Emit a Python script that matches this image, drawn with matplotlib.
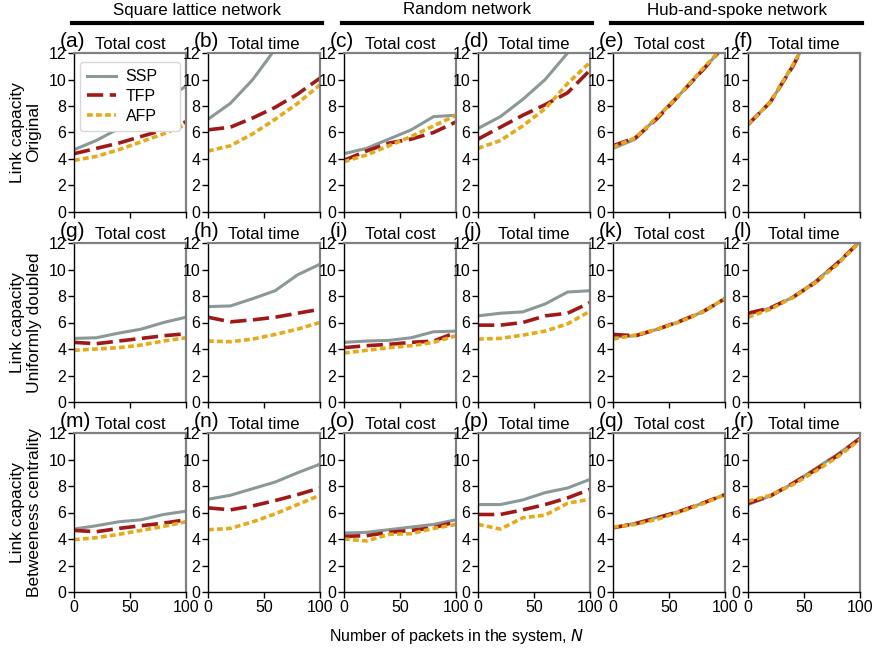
import matplotlib
matplotlib.use("Agg")
import matplotlib.pyplot as plt
from matplotlib.lines import Line2D

plt.rcParams['font.family'] = ['Liberation Sans', 'DejaVu Sans']

N = [0, 20, 40, 60, 80, 100]
methods = ["SSP", "TFP", "AFP"]
networks = ["Square lattice network", "Random network", "Hub-and-spoke network"]
row_labels = ["Link capacity\nOriginal", "Link capacity\nUniformly doubled", "Link capacity\nBetweeness centrality"]
metrics = ["Total cost", "Total time"]
letters = list("abcdefghijklmnopqr")

a_ssp = [4.7, 5.4, 6.3, 7.3, 8.4, 9.5]
a_tfp = [4.4, 4.8, 5.2, 5.7, 6.2, 6.8]
a_afp = [3.9, 4.2, 4.7, 5.3, 5.9, 6.6]
b_ssp = [7.0, 8.2, 10.0, 12.3, 14.5, 17.0]
b_tfp = [6.2, 6.4, 7.1, 7.9, 8.9, 10.1]
b_afp = [4.6, 5.0, 5.9, 7.0, 8.2, 9.6]
c_ssp = [4.4, 4.8, 5.5, 6.2, 7.2, 7.3]
c_tfp = [3.9, 4.6, 5.2, 5.5, 6.0, 6.8]
c_afp = [3.8, 4.3, 5.0, 5.7, 6.5, 7.3]
d_ssp = [6.3, 7.2, 8.5, 10.0, 12.0, 13.5]
d_tfp = [5.5, 6.4, 7.3, 8.1, 9.0, 10.7]
d_afp = [4.8, 5.4, 6.5, 7.8, 9.7, 11.3]
e_ssp = [4.8, 5.5, 7.2, 8.9, 10.7, 12.6]
e_tfp = [5.0, 5.6, 7.1, 8.9, 10.7, 12.6]
e_afp = [4.9, 5.6, 7.2, 8.9, 10.8, 12.6]
f_ssp = [6.6, 8.3, 11.0, 14.2, 17.5, 21.0]
f_tfp = [6.6, 8.3, 11.0, 14.2, 17.5, 21.0]
f_afp = [6.6, 8.3, 11.1, 14.2, 17.5, 21.0]

g_ssp = [4.8, 4.85, 5.2, 5.5, 6.0, 6.4]
g_tfp = [4.5, 4.4, 4.6, 4.8, 5.0, 5.15]
g_afp = [3.9, 4.0, 4.1, 4.3, 4.6, 4.85]
h_ssp = [7.2, 7.25, 7.8, 8.4, 9.6, 10.4]
h_tfp = [6.4, 6.05, 6.2, 6.4, 6.7, 7.0]
h_afp = [4.6, 4.55, 4.75, 5.1, 5.5, 6.0]
i_ssp = [4.5, 4.6, 4.65, 4.85, 5.3, 5.35]
i_tfp = [4.1, 4.25, 4.35, 4.5, 4.6, 5.25]
i_afp = [3.7, 3.9, 4.1, 4.25, 4.5, 5.0]
j_ssp = [6.5, 6.7, 6.8, 7.4, 8.3, 8.4]
j_tfp = [5.8, 5.8, 6.0, 6.5, 6.7, 7.5]
j_afp = [4.75, 4.8, 5.05, 5.35, 5.9, 6.85]
k_ssp = [4.9, 5.0, 5.5, 6.1, 6.8, 7.8]
k_tfp = [5.1, 5.0, 5.5, 6.1, 6.8, 7.8]
k_afp = [4.75, 5.05, 5.5, 6.05, 6.8, 7.8]
l_ssp = [6.6, 7.1, 7.9, 9.1, 10.5, 12.1]
l_tfp = [6.7, 7.1, 7.9, 9.0, 10.5, 12.1]
l_afp = [6.4, 7.0, 7.9, 9.0, 10.4, 12.1]

m_ssp = [4.75, 5.0, 5.3, 5.45, 5.85, 6.1]
m_tfp = [4.65, 4.55, 4.8, 5.0, 5.2, 5.45]
m_afp = [3.95, 4.1, 4.35, 4.65, 4.95, 5.3]
n_ssp = [7.0, 7.3, 7.8, 8.3, 9.0, 9.65]
n_tfp = [6.35, 6.2, 6.5, 6.9, 7.35, 7.85]
n_afp = [4.7, 4.8, 5.3, 5.9, 6.6, 7.3]
o_ssp = [4.45, 4.5, 4.7, 4.9, 5.1, 5.45]
o_tfp = [4.2, 4.25, 4.5, 4.65, 4.85, 5.3]
o_afp = [4.0, 3.85, 4.35, 4.4, 4.8, 5.1]
p_ssp = [6.6, 6.6, 6.95, 7.5, 7.85, 8.5]
p_tfp = [5.85, 5.85, 6.2, 6.6, 7.1, 7.75]
p_afp = [5.1, 4.75, 5.6, 5.8, 6.7, 7.0]
q_ssp = [4.85, 5.2, 5.65, 6.1, 6.7, 7.35]
q_tfp = [4.85, 5.15, 5.6, 6.1, 6.7, 7.35]
q_afp = [4.9, 5.1, 5.5, 6.05, 6.65, 7.35]
r_ssp = [6.6, 7.25, 8.2, 9.3, 10.4, 11.6]
r_tfp = [6.7, 7.25, 8.2, 9.2, 10.3, 11.6]
r_afp = [6.85, 7.3, 8.1, 9.1, 10.2, 11.5]

data = [
    [(a_ssp, a_tfp, a_afp), (b_ssp, b_tfp, b_afp), (c_ssp, c_tfp, c_afp),
     (d_ssp, d_tfp, d_afp), (e_ssp, e_tfp, e_afp), (f_ssp, f_tfp, f_afp)],
    [(g_ssp, g_tfp, g_afp), (h_ssp, h_tfp, h_afp), (i_ssp, i_tfp, i_afp),
     (j_ssp, j_tfp, j_afp), (k_ssp, k_tfp, k_afp), (l_ssp, l_tfp, l_afp)],
    [(m_ssp, m_tfp, m_afp), (n_ssp, n_tfp, n_afp), (o_ssp, o_tfp, o_afp),
     (p_ssp, p_tfp, p_afp), (q_ssp, q_tfp, q_afp), (r_ssp, r_tfp, r_afp)],
]

colors = ["#8b9898", "#a01818", "#e8a916"]
styles = [dict(ls="-", lw=2.2),
          dict(ls=(0, (4.5, 1.8)), lw=2.6),
          dict(ls=(0, (1.6, 0.9)), lw=2.6)]

W, H = 872, 649
fig = plt.figure(figsize=(W / 100, H / 100), dpi=100)

lefts = [74, 208, 344, 478, 613, 748]
tops = [53, 243, 433]
aw, ah = 112, 159

for r in range(3):
    for c in range(6):
        ax = fig.add_axes([lefts[c] / W, 1 - (tops[r] + ah) / H, aw / W, ah / H])
        for k in range(3):
            ax.plot(N, data[r][c][k], color=colors[k], label=methods[k], **styles[k])
        ax.set_xlim(0, 100)
        ax.set_ylim(0, 12)
        ax.set_xticks([0, 50, 100])
        ax.set_yticks(range(0, 13, 2))
        ax.tick_params(direction="out", length=4, width=1, labelsize=11.5, pad=1.5)
        if r < 2:
            ax.set_xticklabels([])
        for s in ["left", "bottom"]:
            ax.spines[s].set_color("black")
            ax.spines[s].set_linewidth(1.0)
        for s in ["top", "right"]:
            ax.spines[s].set_color("#808080")
            ax.spines[s].set_linewidth(1.6)
        ax.set_title(metrics[c % 2], fontsize=12, pad=3)
        ax.text(-0.13, 1.015, "(" + letters[r * 6 + c] + ")", transform=ax.transAxes,
                fontsize=15, ha="left", va="bottom")
        if r == 0 and c == 0:
            ax.legend(loc="upper left", bbox_to_anchor=(0.054, 0.943, 0.89, 0.0),
                      mode="expand", borderaxespad=0.0,
                      fontsize=11.5, handlelength=1.8, handletextpad=0.6,
                      frameon=True, fancybox=True, edgecolor="#d8d8d8",
                      framealpha=1.0, labelspacing=0.3, borderpad=0.45)

for g in range(3):
    x0 = lefts[2 * g] - 2
    x1 = lefts[2 * g + 1] + aw + 2
    fig.add_artist(Line2D([x0 / W, x1 / W], [1 - 23 / H, 1 - 23 / H], color="black", lw=3))
    fig.text((x0 + x1) / 2 / W, 1 - 10 / H, networks[g], ha="center", va="center", fontsize=12.2)

for r in range(3):
    fig.text(26 / W, 1 - (tops[r] + ah / 2) / H, row_labels[r], rotation=90,
             ha="center", va="center", fontsize=12.5, linespacing=1.1)

fig.text(457 / W, 1 - 637 / H, "Number of packets in the system, $\\it{N}$",
         ha="center", va="center", fontsize=11.5)

fig.savefig("out.png", dpi=100)
